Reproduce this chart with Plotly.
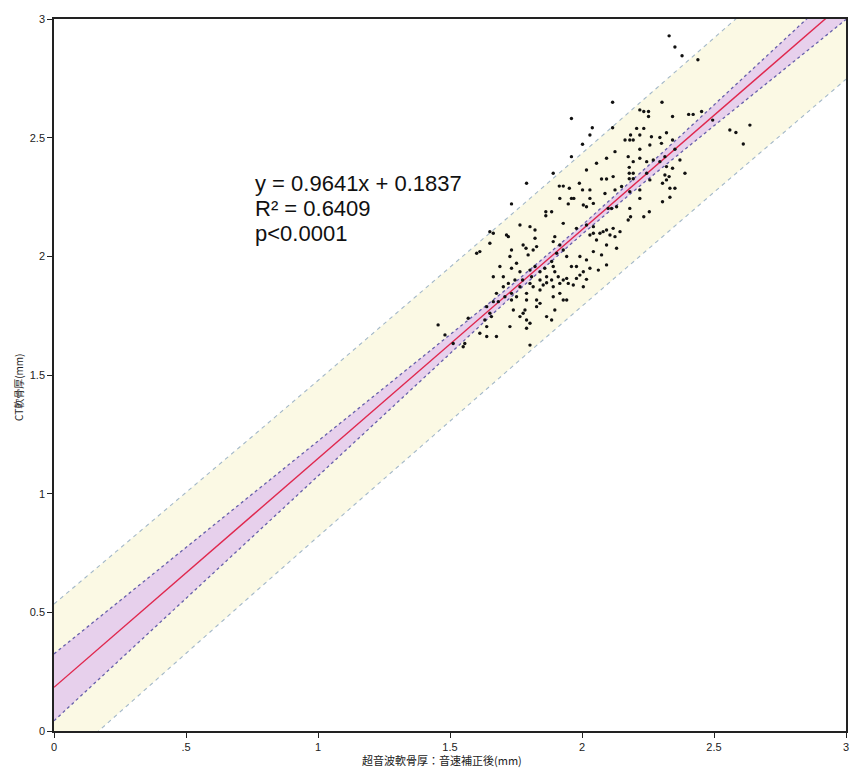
import plotly.graph_objects as go

# ---- data ----
x_grid = [0, 0.25, 0.5, 0.75, 1.0, 1.25, 1.5, 1.75, 2.0, 2.25, 2.5, 2.75, 3.0]
fit_y = [0.184, 0.425, 0.666, 0.907, 1.148, 1.389, 1.630, 1.871, 2.112, 2.353, 2.594, 2.835, 3.076]
ci_lo = [0.043, 0.301, 0.560, 0.819, 1.077, 1.335, 1.593, 1.848, 2.093, 2.325, 2.550, 2.775, 2.998]
ci_hi = [0.325, 0.549, 0.772, 0.995, 1.219, 1.443, 1.667, 1.894, 2.131, 2.381, 2.638, 2.895, 3.154]
pi_lo = [-0.167, 0.081, 0.328, 0.574, 0.819, 1.063, 1.307, 1.549, 1.790, 2.031, 2.270, 2.508, 2.746]
pi_hi = [0.535, 0.769, 1.004, 1.240, 1.477, 1.715, 1.953, 2.193, 2.434, 2.675, 2.918, 3.162, 3.406]

us_thickness = [
    2.330, 2.352, 2.379, 2.439,
    2.116, 2.303, 1.960, 2.219, 2.234, 2.252, 2.252, 2.343, 2.404, 2.421, 2.453, 2.495, 2.636, 2.560,
    2.583, 2.611, 2.039, 2.116, 2.030, 2.002, 2.234, 2.207, 2.184, 2.163, 2.181, 2.194, 2.219, 2.263,
    2.295, 2.320, 2.301, 2.343, 2.352, 2.219, 2.257, 2.371, 2.390, 2.320, 2.343, 2.295, 2.314, 2.270,
    2.245, 2.219, 2.194, 2.175, 2.179, 2.179, 2.194, 2.179, 2.194, 2.245, 2.257, 2.314, 2.330, 2.320,
    2.305, 2.333, 2.352, 2.333, 2.305, 2.219, 2.219, 2.150, 2.181, 2.118, 2.093, 2.074, 2.087, 2.125,
    2.055, 2.093, 2.125, 1.960, 2.017, 1.891, 1.790, 1.733, 1.914, 1.929, 1.952, 1.990, 2.002, 2.030,
    2.030, 2.043, 1.960, 1.969, 1.916, 1.948, 2.005, 2.017, 1.863, 1.885, 1.863, 1.929, 1.979, 2.017,
    2.043, 2.099, 2.112, 2.131, 2.181, 2.184, 2.175, 2.234, 2.255, 2.068, 2.080, 2.093, 2.106, 2.030,
    2.043, 2.055, 2.118, 2.125, 2.144, 2.093, 2.074, 2.043, 2.131, 2.093, 2.062, 2.017, 2.030, 2.017,
    2.005, 1.979, 1.960, 1.992, 1.916, 1.897, 1.891, 1.904, 1.929, 1.942, 1.885, 1.891, 1.897, 1.859,
    1.866, 1.841, 1.841, 1.822, 1.803, 1.809, 1.803, 1.796, 1.788, 1.777, 1.765, 1.803, 1.822, 1.822,
    1.828, 1.815, 1.733, 1.727, 1.752, 1.765, 1.733, 1.721, 1.702, 1.664, 1.746, 1.775, 1.721, 1.765,
    1.790, 1.815, 1.841, 1.853, 1.866, 1.885, 1.910, 1.916, 1.929, 1.942, 1.948, 1.967, 1.979, 1.992,
    2.005, 1.891, 1.916, 1.929, 1.942, 1.891, 1.897, 1.866, 1.885, 1.828, 1.828, 1.841, 1.790, 1.784,
    1.777, 1.765, 1.790, 1.803, 1.790, 1.727, 1.740, 1.733, 1.752, 1.708, 1.683, 1.676, 1.664, 1.639,
    1.651, 1.657, 1.632, 1.639, 1.613, 1.639, 1.676, 1.569, 1.556, 1.550, 1.512, 1.481, 1.455, 1.803,
    1.733, 1.702, 1.613, 1.601, 1.651, 1.664, 1.651, 1.714, 1.689,
]
ct_thickness = [
    2.929, 2.882, 2.845, 2.828,
    2.649, 2.649, 2.581, 2.617, 2.610, 2.610, 2.589, 2.589, 2.598, 2.598, 2.610, 2.574, 2.553, 2.532,
    2.522, 2.473, 2.542, 2.542, 2.511, 2.472, 2.539, 2.539, 2.511, 2.490, 2.490, 2.490, 2.511, 2.504,
    2.501, 2.521, 2.476, 2.490, 2.451, 2.451, 2.469, 2.406, 2.350, 2.378, 2.371, 2.399, 2.420, 2.406,
    2.399, 2.413, 2.399, 2.420, 2.375, 2.350, 2.350, 2.327, 2.327, 2.350, 2.322, 2.343, 2.336, 2.322,
    2.308, 2.287, 2.287, 2.249, 2.230, 2.280, 2.244, 2.294, 2.272, 2.336, 2.326, 2.326, 2.265, 2.280,
    2.392, 2.413, 2.441, 2.420, 2.364, 2.350, 2.308, 2.221, 2.296, 2.296, 2.287, 2.308, 2.280, 2.280,
    2.244, 2.223, 2.244, 2.244, 2.244, 2.221, 2.216, 2.209, 2.188, 2.188, 2.171, 2.139, 2.118, 2.132,
    2.125, 2.202, 2.202, 2.209, 2.202, 2.167, 2.153, 2.167, 2.188, 2.097, 2.104, 2.111, 2.090, 2.090,
    2.097, 2.069, 2.118, 2.083, 2.104, 2.048, 2.006, 2.020, 2.034, 1.964, 1.942, 1.985, 1.950, 1.903,
    1.935, 1.957, 1.957, 1.999, 2.048, 2.083, 2.062, 2.013, 2.027, 1.999, 1.978, 1.957, 1.935, 1.950,
    1.914, 1.900, 1.935, 1.957, 1.942, 1.914, 1.886, 2.006, 2.034, 2.048, 2.132, 2.125, 2.111, 2.076,
    2.041, 2.027, 2.027, 1.999, 1.971, 1.935, 1.950, 2.083, 1.914, 1.914, 1.900, 1.900, 1.886, 1.872,
    1.844, 1.872, 1.858, 1.879, 1.889, 1.900, 1.914, 1.886, 1.900, 1.907, 1.886, 1.879, 1.907, 1.921,
    1.872, 1.830, 1.844, 1.816, 1.816, 1.872, 1.774, 1.746, 1.732, 1.788, 1.816, 1.802, 1.816, 1.774,
    1.760, 1.746, 1.732, 1.718, 1.697, 1.704, 1.774, 1.816, 1.830, 1.830, 1.809, 1.844, 1.809, 1.788,
    1.760, 1.746, 1.732, 1.704, 1.676, 1.662, 1.662, 1.739, 1.633, 1.619, 1.633, 1.669, 1.711, 1.626,
    1.844, 1.872, 2.020, 2.013, 2.055, 2.097, 2.104, 2.090, 1.957,
]

x_tick_vals = [0, 0.5, 1, 1.5, 2, 2.5, 3]
x_tick_text = ["0", ".5", "1", "1.5", "2", "2.5", "3"]
y_tick_vals = [0, 0.5, 1, 1.5, 2, 2.5, 3]
y_tick_text = ["0", "0.5", "1", "1.5", "2", "2.5", "3"]

eq_lines = ["y = 0.9641x + 0.1837", "R² = 0.6409", "p&lt;0.0001"]
x_title = "超音波軟骨厚：音速補正後(mm)"
y_title = "CT軟骨厚(mm)"

fig = go.Figure()

# prediction band (yellow)
fig.add_trace(go.Scatter(x=x_grid, y=pi_lo, mode="lines",
                         line=dict(color="#a3b8c8", width=1.1, dash="4px,4px"),
                         showlegend=False, hoverinfo="skip"))
fig.add_trace(go.Scatter(x=x_grid, y=pi_hi, mode="lines", fill="tonexty",
                         fillcolor="rgba(251,249,228,1)",
                         line=dict(color="#a3b8c8", width=1.1, dash="4px,4px"),
                         showlegend=False, hoverinfo="skip"))
# confidence band (purple)
fig.add_trace(go.Scatter(x=x_grid, y=ci_lo, mode="lines",
                         line=dict(color="#6660aa", width=1.3, dash="3px,3px"),
                         showlegend=False, hoverinfo="skip"))
fig.add_trace(go.Scatter(x=x_grid, y=ci_hi, mode="lines", fill="tonexty",
                         fillcolor="rgba(231,208,236,1)",
                         line=dict(color="#6660aa", width=1.3, dash="3px,3px"),
                         showlegend=False, hoverinfo="skip"))
# regression line
fig.add_trace(go.Scatter(x=x_grid, y=fit_y, mode="lines",
                         line=dict(color="#e0284e", width=1.4),
                         showlegend=False, hoverinfo="skip"))
# data points
fig.add_trace(go.Scatter(x=us_thickness, y=ct_thickness, mode="markers",
                         marker=dict(color="#111111", size=3.4, symbol="circle",
                                     line=dict(width=0)),
                         showlegend=False))

W, H = 851, 774
L, R, T, B = 54, 5, 19, 43
pw, ph = W - L - R, H - T - B


def px_to_paper(px, py):
    return (px - L) / pw, 1 - (py - T) / ph


eq_font = dict(family="Liberation Sans, Arial, sans-serif", size=22, color="#111111")
for i, line_text in enumerate(eq_lines):
    ax, ay = px_to_paper(253, 183 + 25.5 * i)
    fig.add_annotation(x=ax, y=ay, xref="paper", yref="paper", text=line_text,
                       showarrow=False, xanchor="left", yanchor="middle", align="left",
                       font=eq_font)

axis_common = dict(showgrid=False, zeroline=False, showline=True, linecolor="#222222",
                   linewidth=1.5, mirror=True, ticks="outside", ticklen=5, tickwidth=1,
                   tickcolor="#222222",
                   tickfont=dict(family="Liberation Sans, Arial, sans-serif", size=11, color="#222222"))

fig.update_xaxes(range=[0, 3], tickvals=x_tick_vals, ticktext=x_tick_text,
                 automargin=False, **axis_common)
fig.update_yaxes(range=[0, 3], tickvals=y_tick_vals, ticktext=y_tick_text,
                 automargin=False, **axis_common)

fig.update_layout(width=W, height=H,
                  margin=dict(l=L, r=R, t=T, b=B),
                  paper_bgcolor="white", plot_bgcolor="white")

# axis titles placed as annotations
tx, ty = px_to_paper(442, 760)
fig.add_annotation(x=tx, y=ty, xref="paper", yref="paper",
                   text=x_title, showarrow=False, xanchor="center", yanchor="middle",
                   font=dict(family="Noto Sans CJK JP, sans-serif", size=11, color="#222222"))
tx, ty = px_to_paper(18, 388)
fig.add_annotation(x=tx, y=ty, xref="paper", yref="paper",
                   text=y_title, showarrow=False, xanchor="center", yanchor="middle",
                   textangle=-90,
                   font=dict(family="Noto Sans CJK JP, sans-serif", size=10, color="#222222"))

fig.write_html("out.html", config={"displayModeBar": False},
               post_script="document.body.style.margin='0px';")
